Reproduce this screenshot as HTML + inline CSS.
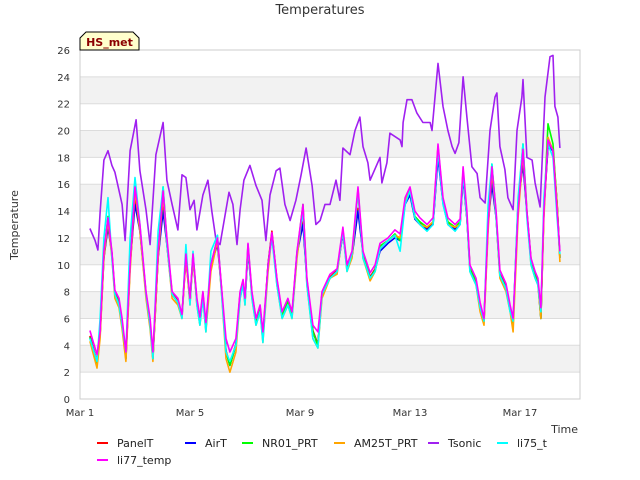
<!DOCTYPE html>
<html><head><meta charset="utf-8"><style>
body{margin:0;background:#fff;}
svg{display:block;font-family:"DejaVu Sans","Liberation Sans",sans-serif;}
</style></head><body>
<svg id="chart" width="640" height="480" viewBox="0 0 640 480">
<text x="320" y="14" text-anchor="middle" font-size="13" fill="#333">Temperatures</text>
<g id="bands"></g>
<g id="grid"></g>
<rect x="80" y="50" width="500" height="349" fill="none" stroke="#ccc"/>
<g id="yticks"></g>
<g id="xticks"></g>
<g id="series"></g>
<text transform="translate(18,225) rotate(-90)" text-anchor="middle" font-size="11" fill="#333">Temperature</text>
<text x="578" y="433" text-anchor="end" font-size="11" fill="#333">Time</text>
<g>
<polygon points="80,38 86,32 133,32 139,38 139,50 80,50" fill="#ffffcc" stroke="#000" stroke-width="1"/>
<text x="109.5" y="46" text-anchor="middle" font-size="11" font-weight="bold" fill="#8b0000">HS_met</text>
</g>
<g id="legend"></g>
</svg>
<script>
const yTicks=[0,2,4,6,8,10,12,14,16,18,20,22,24,26];
const xTickDays=[0,4,8,12,16];
const xTickLabels=["Mar 1","Mar 5","Mar 9","Mar 13","Mar 17"];
const seriesNames=["PanelT","AirT","NR01_PRT","AM25T_PRT","Tsonic","li75_t","li77_temp"];
const days=[.36,.62,.73,.87,1.02,1.16,1.27,1.42,1.53,1.67,1.82,2.0,2.18,2.4,2.55,2.65,2.84,3.02,3.16,3.35,3.56,3.71,3.85,4.0,4.11,4.25,4.36,4.47,4.58,4.76,5.0,5.16,5.31,5.45,5.67,5.82,5.93,6.0,6.11,6.25,6.4,6.55,6.65,6.84,6.98,7.16,7.35,7.56,7.71,7.89,8.11,8.25,8.47,8.65,8.8,9.09,9.35,9.56,9.71,9.89,10.11,10.29,10.55,10.73,10.91,11.2,11.45,11.64,11.82,12.0,12.18,12.36,12.62,12.84,13.02,13.2,13.38,13.64,13.82,13.93,14.07,14.18,14.4,14.55,14.69,14.84,14.98,15.13,15.27,15.49,15.64,15.75,15.93,16.11,16.25,16.4,16.55,16.65,16.76,16.87,17.02,17.2,17.35,17.45];
const li77Vals=[5.1,3.3,5,11,13.5,11,8.1,7.5,6,3.5,10,15.8,13,8,6,3.5,11,15.5,12,8,7.5,6.3,10.8,7.5,10.8,7.5,6.1,8,5.7,10,12,8,4.5,3.5,4.5,8,8.9,7.5,11.6,8,6,7,5,10,12.4,9,6.5,7.5,6.5,11,14.5,9,5.5,5,8,9.3,9.7,12.8,10,11,15.8,11,9.4,10,11.6,12,12.6,12.3,15,15.8,14,13.5,13,13.5,19,15,13.5,13,13.4,17.3,14,10,9,7.2,6,13,17.3,14,9.6,8.6,7,6,14,18.6,14,10.5,9.5,9,6.8,14,19.3,18.5,14,11];
const li75Vals=[4.5,2.8,6,12,15,10.5,7.8,7,5.5,3.5,12,16.5,13,7.8,5.5,3,12.5,15.8,11.5,7.8,7.2,6,11.5,7,11,7,5.5,7.5,5,11,12.2,7.5,3.5,2.8,4,7.5,8.5,7,11.5,7.5,5.5,6.5,4.2,10,12,8.5,6,7,6,11,14,8.5,4.5,3.8,7.8,9,9.5,12.5,9.5,10.8,15.5,10.5,9,9.5,11.2,11.8,12.2,11,14.5,15.5,13.5,13,12.5,13,18.5,14.5,13,12.5,13,16.8,13.5,9.5,8.5,6.8,5.8,14.5,17.5,13.5,9.2,8.2,6.5,5.8,15,19,13.5,10,9,8.5,6.5,15,19,18,13.5,10.8];
const am25Vals=[4.3,2.3,4.5,10.5,13.3,10.5,7.5,6.8,5.2,2.8,9.5,15.5,12.5,7.5,5.2,2.8,10.5,15.2,11.5,7.5,7,6,10.5,7,10.5,7,5.5,7.5,5,9.5,11.8,7.5,3,2,3.5,7.5,8.5,7,11.3,7.5,5.5,6.5,4.2,9.5,12.2,8.5,6,7,6,10.5,14.2,8.5,4.5,3.8,7.5,9,9.3,12.5,9.5,10.5,15.5,10.5,8.8,9.5,11.2,11.8,12.2,12,14.8,15.5,13.5,13,12.8,13.2,18.8,14.7,13,12.8,13,17,13.5,9.5,8.5,6.5,5.5,12.5,17,13.5,9,8,6.5,5,13.5,18.3,13.8,10,9,8.5,6,13.5,19.5,18.5,14.5,10.2];
const nr01Vals=[4.6,2.7,4.8,10.8,13.6,10.8,7.8,7.2,5.5,3,10,16,12.8,7.8,5.6,3,10.8,15.8,11.8,7.8,7.2,6.2,10.8,7.2,10.8,7.2,5.6,7.8,5.2,10,12,7.8,3.5,2.5,4,7.8,8.7,7.2,11.5,7.8,5.8,6.8,4.5,10,12.3,8.8,6.2,7.3,6.2,10.8,14.5,8.8,5,4,7.8,9,9.5,12.6,9.8,10.6,15.6,10.8,9,9.6,11.4,11.8,12.3,11.8,14.8,15.6,13.6,13.2,12.8,13.2,18.8,14.8,13.2,12.8,13.2,17,13.6,9.8,8.8,6.8,5.8,13,17.5,13.8,9.2,8.3,6.7,5.6,14.5,19,14,10.3,9.2,8.7,6,14,20.5,19,14.5,10.5];
const airTVals=[4.6,2.7,4.8,10.5,12.8,10.8,7.8,7.2,5.5,3,10,14.5,12.5,7.8,5.6,3,10.5,14,11.5,7.8,7.2,6.2,10.5,7.2,10.5,7.2,5.6,7.8,5.2,10,11.5,7.8,3.5,2.5,4,7.8,8.7,7.2,11,7.8,5.8,6.8,4.5,10,12.3,8.8,6.2,7.3,6.2,10.8,13,8.8,5,4,7.8,9,9.5,12.3,9.8,10.6,14,10.8,9,9.6,11,11.6,12,11.8,14.5,15.2,13.4,13,12.6,13,18,14.6,13,12.6,13,16.5,13.4,9.8,8.8,6.8,5.8,13,16,13.5,9.2,8.3,6.7,5.6,14.5,17.5,13.8,10.3,9.2,8.7,6,14,18.8,18.5,14.5,10.5];
const panelTVals=[4.7,2.8,4.9,10.6,13,10.9,7.9,7.3,5.6,3.1,10,14.8,12.6,7.9,5.7,3.1,10.6,14.3,11.6,7.9,7.3,6.3,10.6,7.3,10.6,7.3,5.7,7.9,5.3,10,11.8,7.9,3.6,2.6,4.1,7.9,8.8,7.3,11.2,7.9,5.9,6.9,4.6,10.1,12.5,8.9,6.3,7.4,6.3,10.9,13.2,8.9,5.1,4.1,7.9,9.1,9.6,12.4,9.9,10.7,14.2,10.9,9.1,9.7,11.2,11.8,12.2,12,14.7,15.4,13.5,13.1,12.7,13.1,18.2,14.7,13.1,12.7,13.1,16.7,13.5,9.9,8.9,6.9,5.9,13.1,16.3,13.6,9.3,8.4,6.8,5.7,14.6,17.8,13.9,10.4,9.3,8.8,6.1,14.1,19,18.6,14.6,10.6];
const tsonicDays=[.36,.55,.65,.73,.87,1.02,1.16,1.27,1.38,1.53,1.64,1.82,2.04,2.18,2.4,2.55,2.76,3.02,3.16,3.35,3.56,3.71,3.85,4.0,4.15,4.25,4.47,4.65,4.8,4.95,5.09,5.31,5.42,5.56,5.71,5.82,5.96,6.18,6.4,6.62,6.76,6.91,7.13,7.27,7.45,7.64,7.85,8.04,8.22,8.44,8.58,8.73,8.91,9.09,9.31,9.45,9.56,9.82,10.0,10.18,10.29,10.47,10.55,10.91,10.98,11.16,11.27,11.64,11.71,11.75,11.89,12.07,12.25,12.47,12.73,12.8,12.91,13.02,13.2,13.38,13.53,13.64,13.78,13.93,14.07,14.25,14.44,14.55,14.73,14.91,15.09,15.16,15.27,15.45,15.56,15.75,15.89,16.07,16.11,16.25,16.44,16.55,16.73,16.91,17.09,17.2,17.27,17.38,17.45];
const tsonicVals=[12.7,11.8,11.1,13.9,17.8,18.5,17.4,16.9,15.9,14.5,11.8,18.5,20.8,17,14.1,11.5,18.2,20.6,16.3,14.5,12.6,16.7,16.5,14.1,14.8,12.6,15.2,16.3,13.9,11.8,11.5,14.1,15.4,14.5,11.5,14.1,16.3,17.4,15.9,14.8,11.8,15.2,17,17.2,14.5,13.3,14.8,16.7,18.7,15.9,13,13.3,14.5,14.5,16.3,14.8,18.7,18.2,20,21,18.8,17.6,16.3,18,16.1,17.6,19.8,19.3,18.8,20.6,22.3,22.3,21.3,20.6,20.6,20,22.5,25,21.8,20,18.8,18.3,19.1,24,21,17.3,16.8,15,14.6,20,22.5,22.8,18.8,17.1,15,14.1,20,22.5,23.8,18,17.8,16.1,14.3,22.5,25.5,25.6,21.8,21,18.7];

const NS="http://www.w3.org/2000/svg";
const X0=80,X1=580,Y0=399,Y1=50,DMAX=500/27.5;
function xs(d){return X0+d/DMAX*(X1-X0);}
function ys(v){return Y0-v/26*(Y0-Y1);}
function mk(tag,attrs,parent){const e=document.createElementNS(NS,tag);for(const k in attrs)e.setAttribute(k,attrs[k]);parent.appendChild(e);return e;}
const bands=document.getElementById('bands'),grid=document.getElementById('grid'),yt=document.getElementById('yticks'),xt=document.getElementById('xticks');
for(let i=0;i<yTicks.length-1;i++){
  if(i%2===1){const r=mk('rect',{x:X0,y:ys(yTicks[i+1]),width:X1-X0,height:ys(yTicks[i])-ys(yTicks[i+1]),fill:'#f2f2f2'},bands);
  
  }
}
yTicks.forEach(v=>{
  const l=mk('line',{x1:X0,x2:X1,y1:ys(v),y2:ys(v),stroke:'#dcdcdc','stroke-width':1},grid);
  
  
  const t=mk('text',{x:X0-10,y:ys(v)+4,'text-anchor':'end','font-size':10,fill:'#333'},yt);
  
  
  t.textContent=v;
});
xTickDays.forEach((d,i)=>{
  const t=mk('text',{x:xs(d),y:416,'text-anchor':'middle','font-size':10,fill:'#333'},xt);
  
  
  t.textContent=xTickLabels[i];
});
const colors={PanelT:'#ff0000',AirT:'#0000ff',NR01_PRT:'#00ff00',AM25T_PRT:'#ffa500',Tsonic:'#a020f0',li75_t:'#00ffff',li77_temp:'#ff00ff'};
const seriesData=[["PanelT",days,panelTVals],["AirT",days,airTVals],["NR01_PRT",days,nr01Vals],["AM25T_PRT",days,am25Vals],["Tsonic",tsonicDays,tsonicVals],["li75_t",days,li75Vals],["li77_temp",days,li77Vals]];
const sg=document.getElementById('series');
seriesData.forEach(([n,d,v])=>{
  const pts=d.map((dd,i)=>xs(dd).toFixed(1)+','+ys(v[i]).toFixed(1)).join(' ');
  const p=mk('polyline',{points:pts,fill:'none',stroke:colors[n],'stroke-width':1.6,'stroke-linejoin':'round'},sg);
  
  
});
const lg=document.getElementById('legend');
const legPos=[[97,443],[185,443],[242,443],[334,443],[428,443],[497,443],[97,460]];
seriesNames.forEach((n,i)=>{
  const [lx,ly]=legPos[i];
  const g=mk('g',{},lg);
  
  
  mk('line',{x1:lx,x2:lx+11,y1:ly,y2:ly,stroke:colors[n],'stroke-width':2},g);
  const t=mk('text',{x:lx+20,y:ly+4,'font-size':11,fill:'#222'},g);
  t.textContent=n;
});
</script>
</body></html>
